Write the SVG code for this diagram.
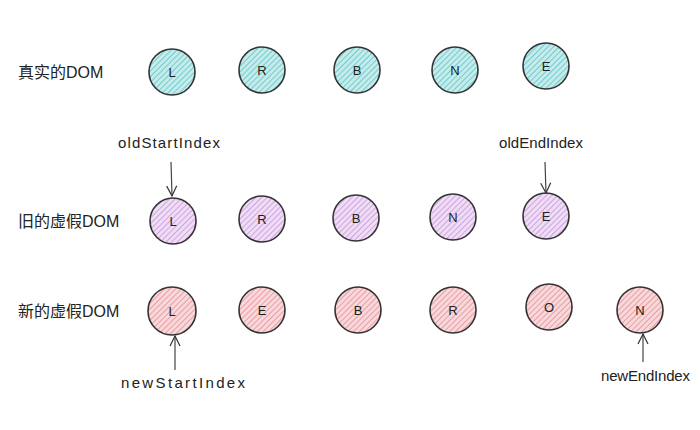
<svg xmlns="http://www.w3.org/2000/svg" width="700" height="430" viewBox="0 0 700 430">
<defs>
<pattern id="hT" patternUnits="userSpaceOnUse" width="4" height="4" patternTransform="rotate(45)"><rect width="4" height="4" fill="#c4ecec"/><line x1="0" y1="0" x2="0" y2="4" stroke="#62c3c6" stroke-width="1.6"/></pattern>
<pattern id="hP" patternUnits="userSpaceOnUse" width="4" height="4" patternTransform="rotate(45)"><rect width="4" height="4" fill="#efdcf5"/><line x1="0" y1="0" x2="0" y2="4" stroke="#c996de" stroke-width="1.6"/></pattern>
<pattern id="hR" patternUnits="userSpaceOnUse" width="4" height="4" patternTransform="rotate(45)"><rect width="4" height="4" fill="#f8d8da"/><line x1="0" y1="0" x2="0" y2="4" stroke="#e68f98" stroke-width="1.6"/></pattern>
<marker id="ah" viewBox="0 0 12 12" refX="11" refY="6" markerWidth="12" markerHeight="12" markerUnits="userSpaceOnUse" orient="auto"><path d="M1,1 L11,6 L1,11" fill="none" stroke="#333" stroke-width="1.2"/></marker>
</defs>
<style>
.c{stroke:#333;stroke-width:1.6}
.t{fill:url(#hT)}.p{fill:url(#hP)}.r{fill:url(#hR)}
.l{font-family:"Liberation Sans",sans-serif;font-size:13px;fill:#222;text-anchor:middle}
.row{font-family:"Liberation Sans","Noto Sans CJK SC",sans-serif;font-size:16px;fill:#222}
.ix{font-family:"Liberation Sans",sans-serif;font-size:15px;fill:#222}
.a{stroke:#444;stroke-width:1.2;fill:none}
</style>
<rect width="700" height="430" fill="#fff"/>
<text class="row" x="18" y="78">真实的DOM</text>
<text class="row" x="18" y="227">旧的虚假DOM</text>
<text class="row" x="18" y="317">新的虚假DOM</text>

<g id="real-L"><circle class="c t" cx="172" cy="72" r="23"/><text class="l" x="172" y="77">L</text></g>
<g id="real-R"><circle class="c t" cx="262" cy="70" r="23"/><text class="l" x="262" y="75">R</text></g>
<g id="real-B"><circle class="c t" cx="357" cy="70" r="23"/><text class="l" x="357" y="75">B</text></g>
<g id="real-N"><circle class="c t" cx="455" cy="70" r="23"/><text class="l" x="455" y="75">N</text></g>
<g id="real-E"><circle class="c t" cx="546" cy="66" r="23"/><text class="l" x="546" y="71">E</text></g>

<g id="old-L"><circle class="c p" cx="173" cy="221" r="23"/><text class="l" x="173" y="226">L</text></g>
<g id="old-R"><circle class="c p" cx="262" cy="219" r="23"/><text class="l" x="262" y="224">R</text></g>
<g id="old-B"><circle class="c p" cx="356" cy="218" r="23"/><text class="l" x="356" y="223">B</text></g>
<g id="old-N"><circle class="c p" cx="453" cy="217" r="23"/><text class="l" x="453" y="222">N</text></g>
<g id="old-E"><circle class="c p" cx="546" cy="216" r="23"/><text class="l" x="546" y="221">E</text></g>

<g id="new-L"><circle class="c r" cx="172" cy="311" r="24"/><text class="l" x="172" y="316">L</text></g>
<g id="new-E"><circle class="c r" cx="262" cy="310" r="23"/><text class="l" x="262" y="315">E</text></g>
<g id="new-B"><circle class="c r" cx="358" cy="310" r="23"/><text class="l" x="358" y="315">B</text></g>
<g id="new-R"><circle class="c r" cx="453" cy="310" r="23"/><text class="l" x="453" y="315">R</text></g>
<g id="new-O"><circle class="c r" cx="549" cy="307" r="23"/><text class="l" x="549" y="312">O</text></g>
<g id="new-N"><circle class="c r" cx="640" cy="310" r="23"/><text class="l" x="640" y="315">N</text></g>

<g id="idx-oldStart"><text class="ix" x="118" y="148" textLength="102">oldStartIndex</text></g>
<g id="idx-oldEnd"><text class="ix" x="499" y="148" textLength="84">oldEndIndex</text></g>
<g id="idx-newStart"><text class="ix" x="121" y="388" textLength="124">newStartIndex</text></g>
<g id="idx-newEnd"><text class="ix" x="601" y="381" textLength="89">newEndIndex</text></g>

<g id="connectors">
<path class="a" d="M171,162 L172,196" marker-end="url(#ah)"/>
<path class="a" d="M545,162 L546,193" marker-end="url(#ah)"/>
<path class="a" d="M175,370 L175,336" marker-end="url(#ah)"/>
<path class="a" d="M643,362 L643,334" marker-end="url(#ah)"/>
</g>
</svg>
